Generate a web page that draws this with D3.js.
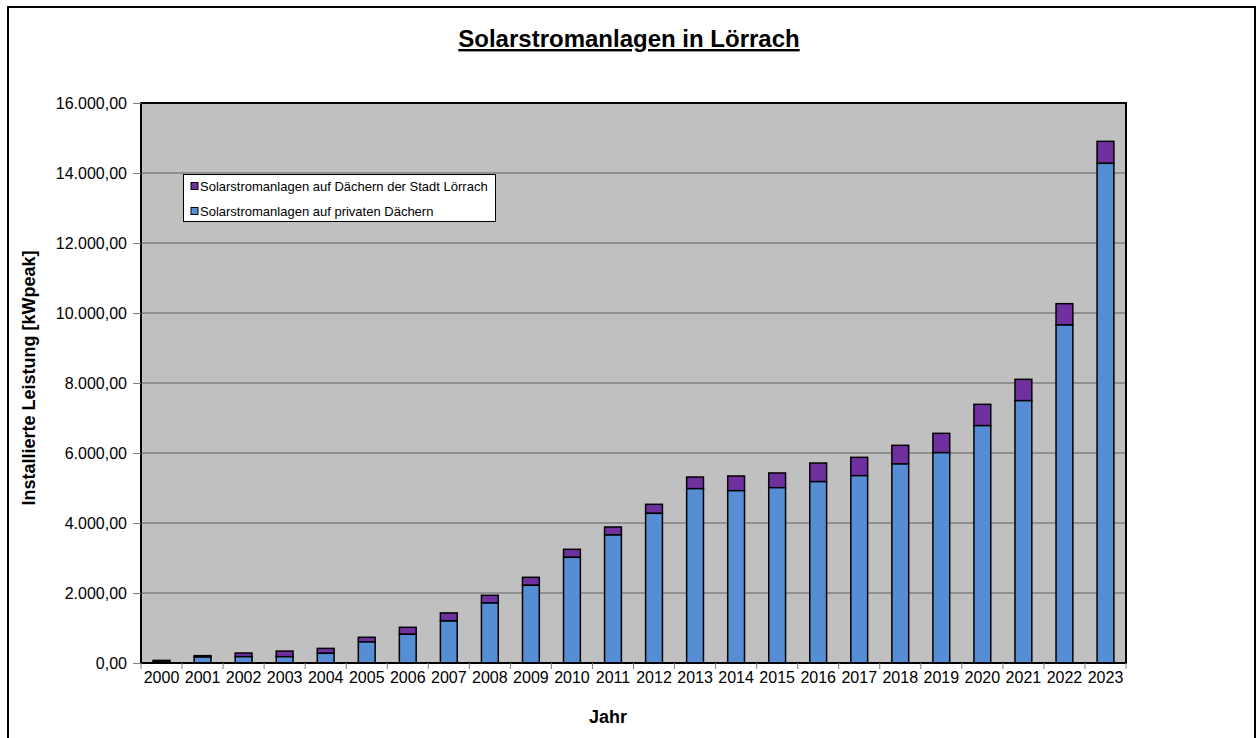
<!DOCTYPE html>
<html>
<head>
<meta charset="utf-8">
<script src="https://cdn.jsdelivr.net/npm/d3@7"></script>
<style>
  body { margin: 0; background: #fff; }
  text { font-family: "Liberation Sans", Arial, sans-serif; fill: #000; }
</style>
</head>
<body>
<div class="container"></div>
<script>
// Werte (kWpeak)
var years = ['2000', '2001', '2002', '2003', '2004', '2005', '2006', '2007', '2008', '2009', '2010', '2011',
	'2012', '2013', '2014', '2015', '2016', '2017', '2018', '2019', '2020', '2021', '2022', '2023'];
var privat = [30, 170, 180, 180, 277, 600, 820, 1200, 1714, 2220, 3019, 3657,
	4276, 4981, 4923, 5009, 5181, 5352, 5686, 6009, 6781, 7495, 9657, 14276];
var stadt = [45, 40, 105, 160, 140, 135, 200, 230, 220, 228, 229, 229,
	258, 333, 420, 420, 533, 524, 533, 553, 610, 610, 609, 629];
var yTicks = [0, 2000, 4000, 6000, 8000, 10000, 12000, 14000, 16000];
var seriesNames = ['Solarstromanlagen auf Dächern der Stadt Lörrach', 'Solarstromanlagen auf privaten Dächern'];
var seriesColors = ['#7030a0', '#558ed5'];

var width = 1258, height = 738;
var plot = { left: 141, top: 103, right: 1126, bottom: 663 };

var svg = d3
	.select('.container')
	.append('svg')
	.attr('width', width)
	.attr('height', height);

svg.append('rect')
	.attr('x', 8).attr('y', 7)
	.attr('width', 1247).attr('height', 745)
	.attr('fill', '#fff').attr('stroke', '#000').attr('stroke-width', 2);

var x = d3.scaleBand().domain(years).range([plot.left, plot.right]).paddingInner(0.59).paddingOuter(0.295);
var xBand = d3.scaleBand().domain(years).range([plot.left, plot.right]);
var y = d3.scaleLinear().domain([0, 16000]).range([plot.bottom, plot.top]);

var de = d3.formatLocale({ decimal: ',', thousands: '.', grouping: [3], currency: ['', '€'] });
var fmt = de.format(',.2f');

// Plotfläche
svg.append('rect')
	.attr('x', plot.left).attr('y', plot.top)
	.attr('width', plot.right - plot.left).attr('height', plot.bottom - plot.top)
	.attr('fill', '#c0c0c0');

// Gitterlinien
svg.append('g')
	.selectAll('line')
	.data(yTicks.slice(1))
	.enter()
	.append('line')
	.attr('x1', plot.left).attr('x2', plot.right)
	.attr('y1', function(d) { return y(d); })
	.attr('y2', function(d) { return y(d); })
	.attr('stroke', '#808080').attr('stroke-width', 1.5);

// gestapelte Balken
var table = years.map(function(yr, i) {
	return { year: yr, privat: privat[i], stadt: stadt[i] };
});
var stack = d3.stack().keys(['stadt', 'privat']).order(d3.stackOrderReverse)(table);

svg.append('g')
	.selectAll('g')
	.data(stack)
	.enter()
	.append('g')
	.attr('fill', function(d) { return d.key === 'stadt' ? seriesColors[0] : seriesColors[1]; })
	.selectAll('rect')
	.data(function(d) { return d; })
	.enter()
	.append('rect')
	.attr('x', function(d) { return x(d.data.year); })
	.attr('y', function(d) { return y(d[1]); })
	.attr('width', x.bandwidth())
	.attr('height', function(d) { return y(d[0]) - y(d[1]); })
	.attr('stroke', '#000')
	.attr('stroke-width', 1.5);

// Rahmen der Plotfläche
svg.append('rect')
	.attr('x', plot.left).attr('y', plot.top)
	.attr('width', plot.right - plot.left).attr('height', plot.bottom - plot.top)
	.attr('fill', 'none').attr('stroke', '#000').attr('stroke-width', 2);

// y-Achse
var yAxis = svg.append('g')
	.attr('transform', 'translate(' + plot.left + ',0)')
	.call(d3.axisLeft(y).tickValues(yTicks).tickFormat(fmt).tickSize(8).tickPadding(6));
yAxis.select('.domain').remove();
yAxis.selectAll('line').attr('stroke', '#808080');
yAxis.selectAll('text').style('font-size', '16px').style('font-family', '"Liberation Sans", Arial, sans-serif');

// x-Achse
var xAxis = svg.append('g')
	.attr('transform', 'translate(0,' + plot.bottom + ')')
	.call(d3.axisBottom(xBand).tickSize(0).tickPadding(9));
xAxis.select('.domain').remove();
xAxis.selectAll('text').style('font-size', '16px').style('font-family', '"Liberation Sans", Arial, sans-serif');
svg.append('g')
	.selectAll('line')
	.data(years.concat(['end']))
	.enter()
	.append('line')
	.attr('x1', function(d, i) { return plot.left + i * xBand.bandwidth(); })
	.attr('x2', function(d, i) { return plot.left + i * xBand.bandwidth(); })
	.attr('y1', plot.bottom).attr('y2', plot.bottom + 6)
	.attr('stroke', '#808080').attr('stroke-width', 1);

// Titel
svg.append('text')
	.attr('x', 629).attr('y', 47)
	.attr('text-anchor', 'middle')
	.style('font-size', '24px').style('font-weight', 'bold')
	.style('text-decoration', 'underline')
	.text('Solarstromanlagen in Lörrach');

// Achsentitel
svg.append('text')
	.attr('transform', 'translate(35,378) rotate(-90)')
	.attr('text-anchor', 'middle')
	.style('font-size', '18px').style('font-weight', 'bold')
	.text('Installierte Leistung [kWpeak]');

svg.append('text')
	.attr('x', 608).attr('y', 723)
	.attr('text-anchor', 'middle')
	.style('font-size', '18px').style('font-weight', 'bold')
	.text('Jahr');

// Legende
var legend = svg.append('g');
legend.append('rect')
	.attr('x', 183.5).attr('y', 174.5)
	.attr('width', 312).attr('height', 47)
	.attr('fill', '#fff').attr('stroke', '#000').attr('stroke-width', 1);
var items = legend.selectAll('g')
	.data(seriesNames)
	.enter()
	.append('g')
	.attr('transform', function(d, i) { return 'translate(191,' + (186 + i * 25) + ')'; });
items.append('rect')
	.attr('x', 0).attr('y', -3.5)
	.attr('width', 7).attr('height', 7)
	.attr('fill', function(d, i) { return seriesColors[i]; })
	.attr('stroke', '#000').attr('stroke-width', 1);
items.append('text')
	.attr('x', 9).attr('y', 4.5)
	.style('font-size', '13px')
	.text(function(d) { return d; });
</script>
</body>
</html>
